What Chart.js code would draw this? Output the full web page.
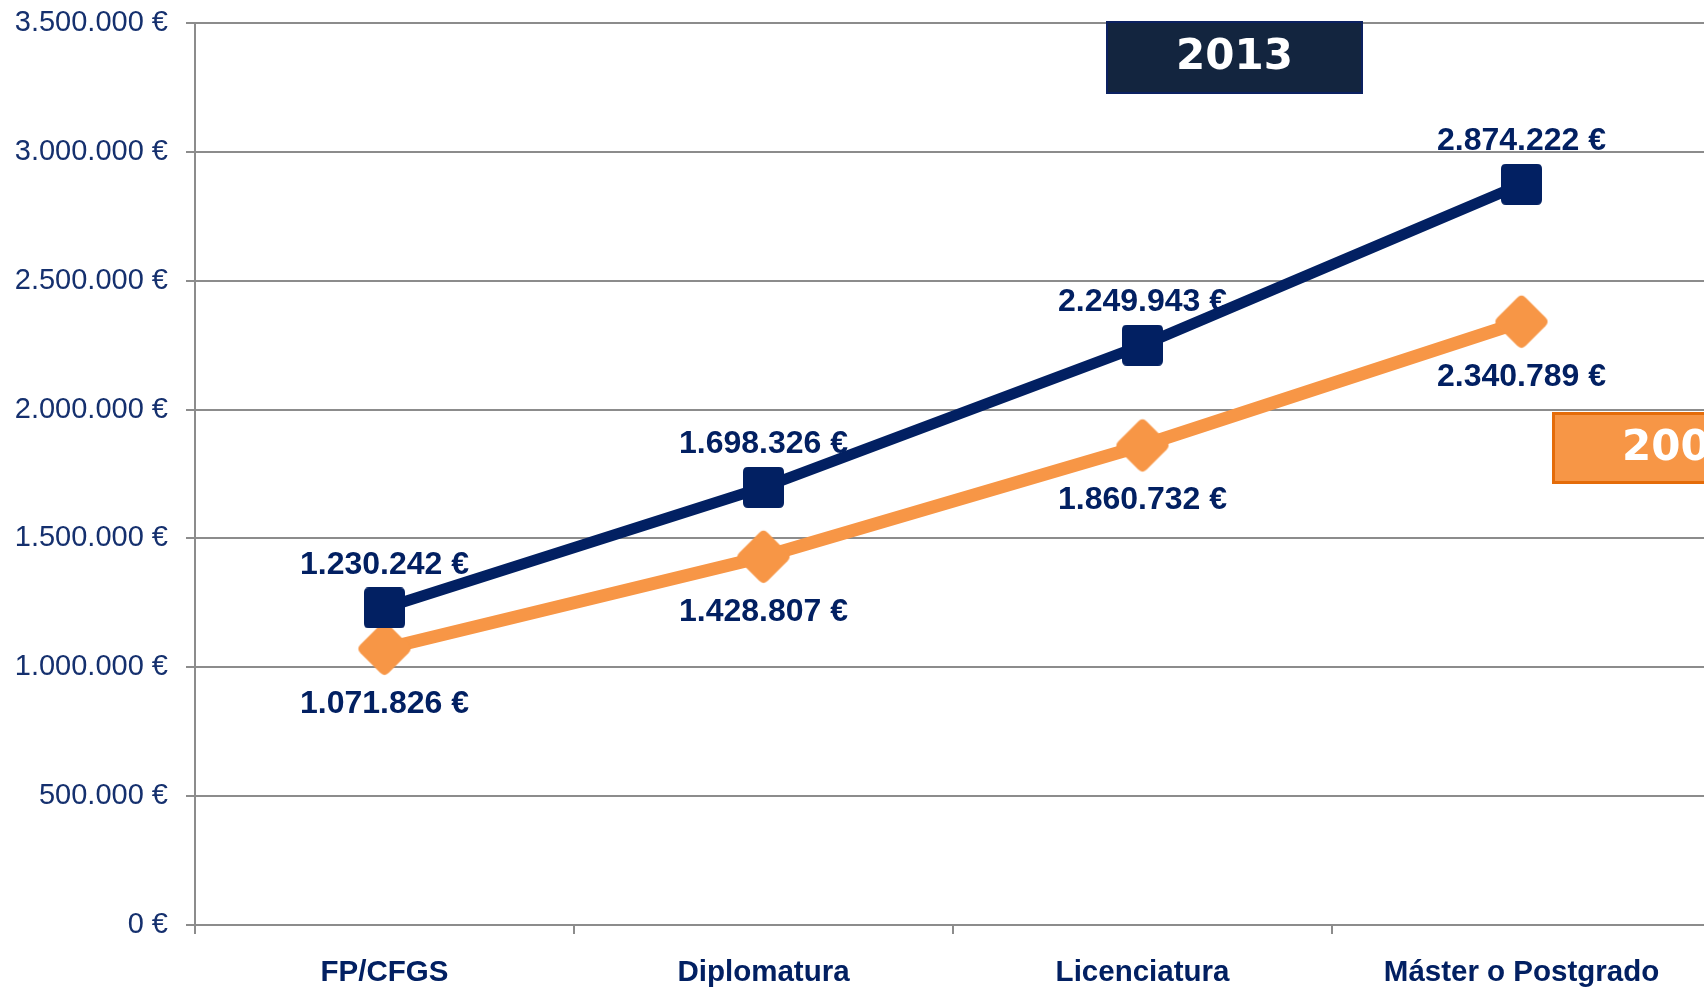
<!DOCTYPE html>
<html><head><meta charset="utf-8">
<script src="https://cdn.jsdelivr.net/npm/chart.js@4/dist/chart.umd.min.js"></script>
<style>
html,body{margin:0;padding:0;background:#fff;overflow:hidden;width:1704px;height:988px;}
#wrap{position:relative;width:1711px;height:988px;}
</style></head><body>
<div id="wrap"><canvas id="c" width="1711" height="988"></canvas></div>
<script>
const categories = ['FP/CFGS', 'Diplomatura', 'Licenciatura', 'Máster o Postgrado'];
const values2013 = [1230242, 1698326, 2249943, 2874222];
const valuesOther = [1071826, 1428807, 1860732, 2340789];
const seriesNames = ['2013', '2008'];
const yMin = 0, yMax = 3500000, yStep = 500000;

const NAVY = '#022062';
const ORANGE = '#F79646';
const GRID = '#8C8C8C';

function fmt(v) {
  return String(Math.round(v)).replace(/\B(?=(\d{3})+(?!\d))/g, '.') + ' €';
}

function roundRectPath(ctx, x, y, w, h, r) {
  ctx.beginPath();
  ctx.moveTo(x + r, y);
  ctx.lineTo(x + w - r, y);
  ctx.quadraticCurveTo(x + w, y, x + w, y + r);
  ctx.lineTo(x + w, y + h - r);
  ctx.quadraticCurveTo(x + w, y + h, x + w - r, y + h);
  ctx.lineTo(x + r, y + h);
  ctx.quadraticCurveTo(x, y + h, x, y + h - r);
  ctx.lineTo(x, y + r);
  ctx.quadraticCurveTo(x, y, x + r, y);
  ctx.closePath();
}

function makeSquare() {
  const c = document.createElement('canvas');
  c.width = 41; c.height = 41;
  const g = c.getContext('2d');
  g.fillStyle = NAVY;
  roundRectPath(g, 0, 0, 41, 41, 5);
  g.fill();
  return c;
}
function makeDiamond() {
  const c = document.createElement('canvas');
  c.width = 58; c.height = 58;
  const g = c.getContext('2d');
  g.translate(29, 29);
  g.rotate(Math.PI / 4);
  g.fillStyle = ORANGE;
  roundRectPath(g, -20, -20, 40, 40, 6);
  g.fill();
  return c;
}

const labelPlugin = {
  id: 'valueLabels',
  afterDatasetsDraw(chart) {
    const ctx = chart.ctx;
    ctx.save();
    ctx.font = 'bold 32px "Liberation Sans"';
    ctx.fillStyle = NAVY;
    ctx.textAlign = 'center';
    ctx.textBaseline = 'middle';
    chart.data.datasets.forEach((ds, i) => {
      const meta = chart.getDatasetMeta(i);
      meta.data.forEach((pt, j) => {
        const off = i === 0 ? -43 : 55;
        ctx.fillText(fmt(ds.data[j]), pt.x, pt.y + off);
      });
    });
    // year boxes
    ctx.lineWidth = 2;
    ctx.fillStyle = '#13253F';
    ctx.strokeStyle = '#0B2161';
    ctx.fillRect(1106, 21, 257, 73);
    ctx.strokeRect(1107, 22, 255, 71);
    ctx.fillStyle = ORANGE;
    ctx.strokeStyle = '#E46C0A';
    ctx.lineWidth = 3;
    ctx.fillRect(1552, 412, 257, 72);
    ctx.strokeRect(1553.5, 413.5, 254, 69);
    ctx.fillStyle = '#FFFFFF';
    ctx.font = 'bold 42px "DejaVu Sans"';
    ctx.fillText(seriesNames[0], 1234.5, 58);
    ctx.fillText(seriesNames[1], 1680.5, 449);
    ctx.restore();
  }
};

new Chart(document.getElementById('c'), {
  type: 'line',
  data: {
    labels: categories,
    datasets: [
      {
        label: seriesNames[0],
        data: values2013,
        borderColor: NAVY,
        backgroundColor: NAVY,
        borderWidth: 11,
        pointStyle: makeSquare(),
        pointRadius: 20,
        tension: 0,
        fill: false
      },
      {
        label: seriesNames[1],
        data: valuesOther,
        borderColor: ORANGE,
        backgroundColor: ORANGE,
        borderWidth: 13,
        pointStyle: makeDiamond(),
        pointRadius: 20,
        tension: 0,
        fill: false
      }
    ]
  },
  options: {
    responsive: false,
    animation: false,
    devicePixelRatio: 1,
    layout: { autoPadding: false, padding: { top: 23, left: 0, right: 0, bottom: 0 } },
    plugins: { legend: { display: false }, tooltip: { enabled: false } },
    scales: {
      x: {
        type: 'category',
        offset: true,
        grid: { offset: true, drawOnChartArea: false, drawTicks: true, tickLength: 9, color: GRID, lineWidth: 2 },
        border: { display: true, color: GRID, width: 2 },
        ticks: { color: NAVY, padding: 21, font: { family: 'Liberation Sans', size: 29.5, weight: 'bold' }, maxRotation: 0, autoSkip: false },
        afterFit: s => { s.height = 63; s.paddingLeft = 0; s.paddingRight = 0; }
      },
      y: {
        min: yMin, max: yMax,
        ticks: { stepSize: yStep, color: '#15306E', padding: 18, font: { family: 'Liberation Sans', size: 29 }, callback: v => fmt(v) },
        grid: { color: GRID, lineWidth: 2, tickLength: 9 },
        border: { display: true, color: GRID, width: 2 },
        afterFit: s => { s.width = 195; s.paddingTop = 0; s.paddingBottom = 0; }
      }
    }
  },
  plugins: [labelPlugin]
});
</script>
</body></html>
